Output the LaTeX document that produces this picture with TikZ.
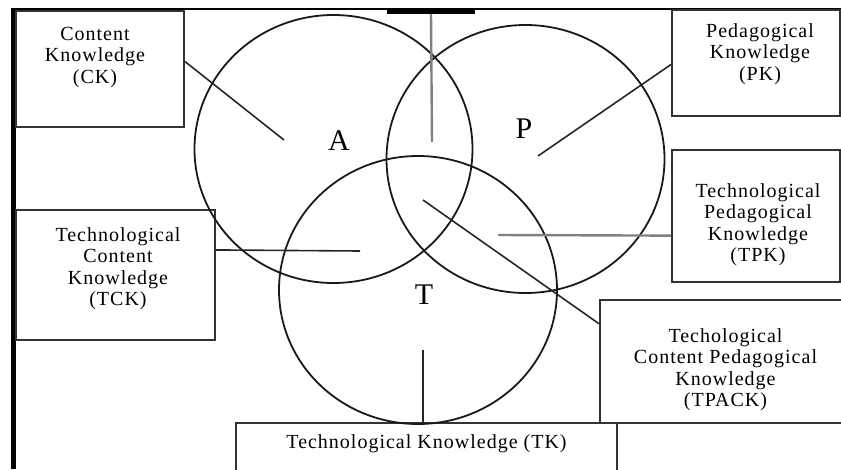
\documentclass[tikz,border=0pt]{standalone}
\usepackage{fontspec}
\setmainfont[LetterSpace=5]{Liberation Serif}
\usetikzlibrary{positioning,shapes.geometric}

\begin{document}
\begin{tikzpicture}[
        x=1pt, y=-1pt,
        kbox/.style={
        rectangle,
        draw=black!80,
        line width=2pt,
        inner sep=0pt},
        ktext/.style={
        align=center,
        inner sep=0pt,
        text=black,
        font=\fontsize{20}{21.5}\selectfont},
        venn/.style={
        ellipse,
        draw=black!90,
        line width=1.8pt,
        inner sep=0pt,
        minimum width=278pt,
        minimum height=268pt},
        vennletter/.style={inner sep=0pt, font=\fontsize{30}{30}\selectfont},
        darkline/.style={draw=black!85, line width=1.6pt},
        greyline/.style={draw=black!50, line width=2.4pt}
        ]
        \useasboundingbox (0,0) rectangle (841,469);

        % frame
        \draw[line width=2.5pt] (12,9) -- (841,9);
        \draw[line width=5pt] (13.5,8) -- (13.5,469);
        \node[fill=black, inner sep=0pt, minimum width=88pt, minimum height=5pt] (topbar) at (431,11.5) {};

        % boxes
        \node[kbox, minimum width=168pt, minimum height=116pt] (ck) at (100,69) {};
        \node[kbox, minimum width=168pt, minimum height=106pt] (pk) at (756,63) {};
        \node[kbox, minimum width=199pt, minimum height=130pt] (tck) at (115.5,275) {};
        \node[kbox, minimum width=168pt, minimum height=132pt] (tpk) at (756,216) {};
        \node[kbox, minimum width=245pt, minimum height=123pt] (tpack) at (722.5,361.5) {};
        \node[kbox, minimum width=381pt, minimum height=52pt] (tk) at (426.5,449) {};
        \node[kbox, minimum width=228pt, minimum height=52pt] (blank) at (731,449) {};

        \node[ktext, below=17pt of ck.north, xshift=-5pt] (cktext) {Content\\Knowledge\\(CK)};
        \node[ktext, below=14pt of pk.north, xshift=4pt] (pktext) {Pedagogical\\Knowledge\\(PK)};
        \node[ktext, below=18pt of tck.north, xshift=2.5pt] (tcktext) {Technological\\Content\\Knowledge\\(TCK)};
        \node[ktext, below=34pt of tpk.north, xshift=2pt] (tpktext) {Technological\\Pedagogical\\Knowledge\\(TPK)};
        \node[ktext, below=29pt of tpack.north, xshift=3pt] (tpacktext) {Techological\\Content Pedagogical\\Knowledge\\(TPACK)};
        \node[ktext, below=12pt of tk.north] (tktext) {Technological Knowledge (TK)};

        % circles
        \node[venn] (circA) at (333.5,149) {};
        \node[venn] (circP) at (525.5,159) {};
        \node[venn] (circT) at (418,290) {};
        \node[vennletter] (la) at (339,141) {A};
        \node[vennletter] (lp) at (524,129) {P};
        \node[vennletter] (lt) at (424,295) {T};

        \coordinate (ckend) at (284,140);
        \coordinate (pkend) at (538,156);
        \coordinate (apend) at (432,142);
        \coordinate (tckend) at (360,251);
        \coordinate (tpkend) at (498,235);
        \coordinate (tpackend) at (423,200);
        \coordinate (tkend) at (423,350);

        \foreach \i/\j/\s in {% start/end/style
            ck.5/ckend/darkline,
            pk.181/pkend/darkline,
            topbar.south/apend/greyline,
            tck.14/tckend/darkline,
            tpk.193/tpkend/greyline,
            tpack.163/tpackend/darkline}
            \draw[\s] (\i) -- (\j);
        \draw[darkline] (tkend |- tk.north) -- (tkend);
\end{tikzpicture}
\end{document}
